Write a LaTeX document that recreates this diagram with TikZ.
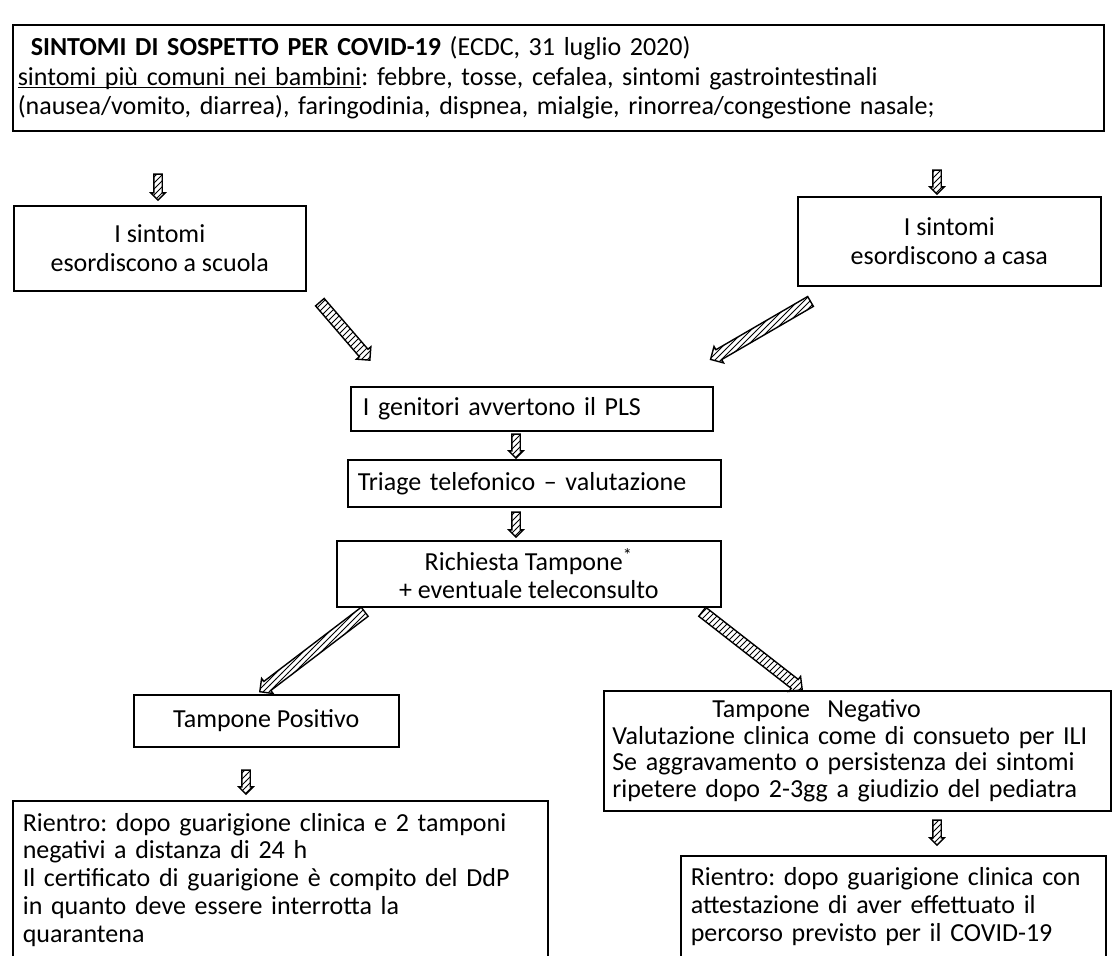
\documentclass[tikz,border=0pt]{standalone}
\usepackage{fontspec}
\setmainfont{Carlito}
\usetikzlibrary{positioning, calc, patterns, shapes.arrows}

\tikzset{
  box/.style={draw, line width=0.8pt, anchor=north west, inner sep=0pt, align=center,
      font=\fontsize{13}{14.4}\selectfont},
  blockarrow/.style={single arrow, draw=black, line width=0.7pt, inner xsep=0pt,
      pattern=north east lines, pattern color=black, single arrow head indent=0pt},
  smallarrow/.style={blockarrow, inner ysep=1.75pt, single arrow head extend=1.5pt},
  bigarrow/.style={blockarrow, inner ysep=2.5pt, single arrow head extend=1.9pt},
}

% block arrow between two named coordinates
\newcommand{\hatcharrow}[3]{%
  \path let \p1=($(#3)-(#2)$), \n1={atan2(\y1,\x1)}, \n2={veclen(\x1,\y1)} in
    node[#1, rotate=\n1, minimum height=\n2] at ($(#2)!0.5!(#3)$) {};}

\frenchspacing
\begin{document}
\begin{tikzpicture}[x=0.5pt, y=-0.5pt]

  \clip (0,0) rectangle (1118,955);
  \fill[white] (0,0) rectangle (1118,955);

  % boxes
  \node[box, minimum width=545.5pt, minimum height=53pt, text width=540.5pt, align=left,
        font=\fontsize{13}{14.6}\selectfont] (sintomi) at (12,24)
    {\hspace*{6.5pt}\textbf{SINTOMI DI SOSPETTO PER COVID-19} (ECDC, 31 luglio 2020)\\
     \underline{\smash{sintomi più comuni nei bambini}}: febbre, tosse, cefalea, sintomi gastrointestinali\\
     (nausea/vomito, diarrea), faringodinia, dispnea, mialgie, rinorrea/congestione nasale;};

  \node[box, minimum width=146pt, minimum height=42.5pt] (scuola) at (13,205)
    {I sintomi\\esordiscono a scuola};
  \node[box, minimum width=151.5pt, minimum height=44.5pt] (casa) at (797,196)
    {I sintomi\\esordiscono a casa};

  \node[box, minimum width=181pt, minimum height=22pt, text width=169pt, align=left] (genitori) at (350,386)
    {I genitori avvertono il PLS};
  \node[box, minimum width=186.5pt, minimum height=23.5pt, text width=176.5pt, align=left] (triage) at (347,459)
    {Triage telefonico -- valutazione};
  \node[box, minimum width=192pt, minimum height=33pt] (richiesta) at (336,540)
    {Richiesta Tampone\textsuperscript{*}\\+ eventuale teleconsulto};

  \node[box, minimum width=132.5pt, minimum height=26pt] (positivo) at (133,694)
    {Tampone Positivo};
  \node[box, minimum width=253.5pt, minimum height=60pt, text width=250pt, align=left,
        font=\fontsize{13}{13.4}\selectfont] (negativo) at (603,690)
    {\hspace*{52.5pt}Tampone\ \ Negativo\\
     \hspace*{2.5pt}Valutazione clinica come di consueto per ILI\\
     \hspace*{2.5pt}Se aggravamento o persistenza dei sintomi\\
     \hspace*{2.5pt}ripetere dopo 2-3gg a giudizio del pediatra};

  \node[box, minimum width=267.5pt, minimum height=79pt, text width=257.5pt, align=left,
        font=\fontsize{13}{13.9}\selectfont] (rientroP) at (12,800)
    {Rientro: dopo guarigione clinica e 2 tamponi\\
     negativi a distanza di 24 h\\
     Il certificato di guarigione è compito del DdP\\
     in quanto deve essere interrotta la\\
     quarantena};
  \node[box, minimum width=212.5pt, minimum height=51pt, text width=202.5pt, align=left,
        font=\fontsize{13}{13.9}\selectfont] (rientroN) at (680,855)
    {Rientro: dopo guarigione clinica con\\
     attestazione di aver effettuato il\\
     percorso previsto per il COVID-19};

  % arrow ends
  \coordinate (a1s) at (158,172); \coordinate (a1e) at (158,198);
  \coordinate (a2s) at (937,168); \coordinate (a2e) at (937,192);
  \coordinate (d1s) at (318,300); \coordinate (d1e) at (368,358);
  \coordinate (d2s) at (813,300); \coordinate (d2e) at (713,358);
  \coordinate (a3s) at (516,432); \coordinate (a3e) at (516,456);
  \coordinate (a4s) at (516,510); \coordinate (a4e) at (516,535);
  \coordinate (d3s) at (367,610); \coordinate (d3e) at (262,690);
  \coordinate (d4s) at (700,610); \coordinate (d4e) at (800,688);
  \coordinate (a5s) at (246,768); \coordinate (a5e) at (246,792);
  \coordinate (a6s) at (937,818); \coordinate (a6e) at (937,843);

  % arrows
  \hatcharrow{smallarrow}{a1s}{a1e}
  \hatcharrow{smallarrow}{a2s}{a2e}
  \hatcharrow{bigarrow}{d1s}{d1e}
  \hatcharrow{bigarrow}{d2s}{d2e}
  \hatcharrow{smallarrow}{a3s}{a3e}
  \hatcharrow{smallarrow}{a4s}{a4e}
  \hatcharrow{bigarrow}{d3s}{d3e}
  \hatcharrow{bigarrow}{d4s}{d4e}
  \hatcharrow{smallarrow}{a5s}{a5e}
  \hatcharrow{smallarrow}{a6s}{a6e}

\end{tikzpicture}
\end{document}
